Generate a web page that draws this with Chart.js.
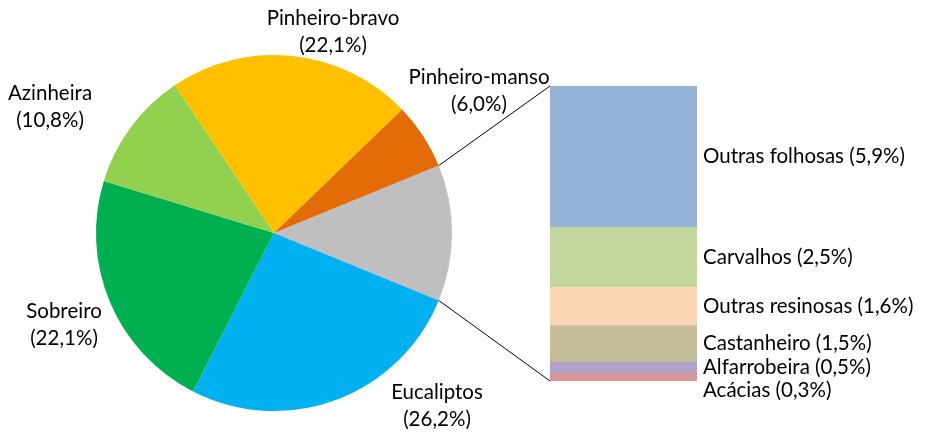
<!DOCTYPE html>
<html>
<head>
<meta charset="utf-8">
<script src="https://cdn.jsdelivr.net/npm/chart.js@4/dist/chart.umd.min.js"></script>
<style>
    html, body { margin: 0; padding: 0; background: #fff; }
    #wrap { position: relative; width: 927px; height: 434px; }
    #wrap canvas { position: absolute; left: 0; top: 0; }
</style>
</head>
<body>
<div id="wrap">
    <canvas id="pieChart" width="927" height="434"></canvas>
    <canvas id="barChart" width="927" height="434"></canvas>
</div>
<script>
// Pie: main species (% of forest area), "outras" slice is the bar total
const pieNames = ['Eucaliptos', 'Sobreiro', 'Azinheira', 'Pinheiro-bravo', 'Pinheiro-manso'];
const pieValues = [26.2, 22.1, 10.8, 22.1, 6.0];
const pieColors = ['#00B0F0', '#00B050', '#92D050', '#FFC000', '#E36C09'];

// Bar: breakdown of the "other" slice, bottom to top
const barNames = ['Acácias', 'Alfarrobeira', 'Castanheiro', 'Outras resinosas', 'Carvalhos', 'Outras folhosas'];
const barValues = [0.3, 0.5, 1.5, 1.6, 2.5, 5.9];
const barColors = ['#D99694', '#B3A2C7', '#C4BD97', '#FCD5B5', '#C3D69B', '#95B3D7'];

const FONT = '20.5px Lato';
const fmt = v => '(' + v.toFixed(1).replace('.', ',') + '%)';

const otherTotal = barValues.reduce((a, b) => a + b, 0);
const allPie = [otherTotal, ...pieValues];
const pieTotal = allPie.reduce((a, b) => a + b, 0);
// centre the "other" slice on 3 o'clock
const rotation = 90 - (otherTotal / pieTotal) * 180;

// text anchors for pie labels (centre x, first line y)
const pieLabelPos = [[437, 392], [64, 311], [50, 93], [333, 18], [479, 77]];

const pieLabelPlugin = {
    id: 'pieLabels',
    afterDraw(chart) {
        const ctx = chart.ctx;
        ctx.save();
        ctx.font = FONT;
        ctx.fillStyle = '#000';
        ctx.textAlign = 'center';
        ctx.textBaseline = 'middle';
        pieNames.forEach((name, i) => {
            const [x, y] = pieLabelPos[i];
            ctx.fillText(name, x, y);
            ctx.fillText(fmt(pieValues[i]), x, y + 27.5);
        });
        ctx.restore();
    }
};

const pieChart = new Chart(document.getElementById('pieChart'), {
    type: 'pie',
    data: {
        labels: ['Outras', ...pieNames],
        datasets: [{
            data: allPie,
            backgroundColor: ['#BFBFBF', ...pieColors],
            borderWidth: 0
        }]
    },
    options: {
        responsive: false,
        animation: false,
        rotation: rotation,
        layout: { padding: { left: 96, right: 475, top: 55, bottom: 23 } },
        plugins: { legend: { display: false }, tooltip: { enabled: false } }
    },
    plugins: [pieLabelPlugin]
});

const barExtrasPlugin = {
    id: 'barExtras',
    afterDraw(chart) {
        const ctx = chart.ctx;
        const arc = pieChart.getDatasetMeta(0).data[0];
        const topBar = chart.getDatasetMeta(barValues.length - 1).data[0];
        const bottomBar = chart.getDatasetMeta(0).data[0];
        const left = topBar.x - topBar.width / 2;
        const right = topBar.x + topBar.width / 2;

        // connector lines
        ctx.save();
        ctx.strokeStyle = '#000';
        ctx.lineWidth = 1;
        ctx.beginPath();
        ctx.moveTo(arc.x + arc.outerRadius * Math.cos(arc.startAngle), arc.y + arc.outerRadius * Math.sin(arc.startAngle));
        ctx.lineTo(left, topBar.y);
        ctx.moveTo(arc.x + arc.outerRadius * Math.cos(arc.endAngle), arc.y + arc.outerRadius * Math.sin(arc.endAngle));
        ctx.lineTo(left, bottomBar.base);
        ctx.stroke();

        // segment labels, top to bottom, pushed apart when crowded
        ctx.font = FONT;
        ctx.fillStyle = '#000';
        ctx.textAlign = 'left';
        ctx.textBaseline = 'middle';
        let prevY = -Infinity;
        for (let i = barValues.length - 1; i >= 0; i--) {
            const el = chart.getDatasetMeta(i).data[0];
            let y = Math.max((el.y + el.base) / 2, prevY + 22.5);
            ctx.fillText(barNames[i] + ' ' + fmt(barValues[i]), right + 6, y);
            prevY = y;
        }
        ctx.restore();
    }
};

new Chart(document.getElementById('barChart'), {
    type: 'bar',
    data: {
        labels: ['Outras'],
        datasets: barNames.map((name, i) => ({
            label: name,
            data: [barValues[i]],
            backgroundColor: barColors[i],
            borderWidth: 0,
            barPercentage: 1,
            categoryPercentage: 1
        }))
    },
    options: {
        responsive: false,
        animation: false,
        layout: { padding: { left: 550, right: 230, top: 86, bottom: 53 } },
        scales: {
            x: { stacked: true, display: false },
            y: { stacked: true, display: false, min: 0, max: otherTotal }
        },
        plugins: { legend: { display: false }, tooltip: { enabled: false } }
    },
    plugins: [barExtrasPlugin]
});
</script>
</body>
</html>
